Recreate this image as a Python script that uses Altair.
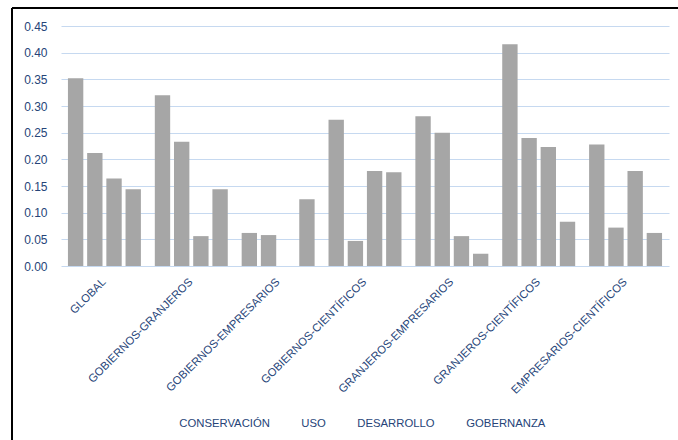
import altair as alt
import pandas as pd

groups = ["GLOBAL", "GOBIERNOS-GRANJEROS", "GOBIERNOS-EMPRESARIOS", "GOBIERNOS-CIENTÍFICOS",
          "GRANJEROS-EMPRESARIOS", "GRANJEROS-CIENTÍFICOS", "EMPRESARIOS-CIENTÍFICOS"]
series = ["CONSERVACIÓN", "USO", "DESARROLLO", "GOBERNANZA"]
conservacion = [0.352, 0.320, 0.062, 0.274, 0.281, 0.416, 0.228]
uso = [0.212, 0.233, 0.058, 0.047, 0.250, 0.240, 0.072]
desarrollo = [0.164, 0.056, 0.0, 0.178, 0.056, 0.223, 0.178]
gobernanza = [0.144, 0.144, 0.125, 0.176, 0.023, 0.083, 0.062]
y_ticks = [0.0, 0.05, 0.10, 0.15, 0.20, 0.25, 0.30, 0.35, 0.40, 0.45]

rows = []
for s, vals in zip(series, [conservacion, uso, desarrollo, gobernanza]):
    for g, v in zip(groups, vals):
        rows.append({"grupo": g, "serie": s, "valor": v})
df = pd.DataFrame(rows)

FONT = "Liberation Sans"
TXT = "#264478"
GRAY = "#A6A6A6"

bars = alt.Chart(df).mark_bar(color=GRAY).encode(
    x=alt.X("grupo:N", sort=groups, title=None,
            scale=alt.Scale(paddingInner=0.16, paddingOuter=0.08),
            axis=alt.Axis(labelAngle=-45, labelAlign="right", labelBaseline="middle",
                          labelPadding=14, ticks=False, domain=False,
                          labelFont=FONT, labelFontSize=11.3, labelColor=TXT)),
    xOffset=alt.XOffset("serie:N", sort=series,
                        scale=alt.Scale(paddingInner=0.2, paddingOuter=0)),
    y=alt.Y("valor:Q", title=None,
            scale=alt.Scale(domain=[0, 0.45], nice=False),
            axis=alt.Axis(values=y_ticks, format=".2f", ticks=False, domain=False,
                          gridColor="#C6D9F0", gridWidth=1, labelPadding=14,
                          labelFont=FONT, labelFontSize=12, labelColor=TXT)),
    color=alt.Color("serie:N", sort=series,
                    scale=alt.Scale(domain=series, range=[GRAY] * 4),
                    legend=alt.Legend(title=None, orient="none", direction="horizontal",
                                      legendX=107, legendY=392,
                                      symbolSize=0, symbolStrokeWidth=0, symbolOpacity=0,
                                      labelOffset=0, columnPadding=20,
                                      labelFont=FONT, labelFontSize=11.3, labelColor=TXT)),
)

frame = pd.DataFrame({"k": [0]})
top_line = alt.Chart(frame).mark_rule(color="black", strokeWidth=2).encode(
    x=alt.value(-49), x2=alt.value(617), y=alt.value(-18))
left_line = alt.Chart(frame).mark_rule(color="black", strokeWidth=2).encode(
    x=alt.value(-49), y=alt.value(-18), y2=alt.value(414))

chart = alt.layer(bars, top_line, left_line).properties(
    width=608, height=240,
    autosize=alt.AutoSizeParams(type="none"),
    padding={"left": 61, "top": 26, "right": 9, "bottom": 174},
).configure_view(stroke=None)

chart.save("out.html", embed_options={"renderer": "svg", "actions": False})
